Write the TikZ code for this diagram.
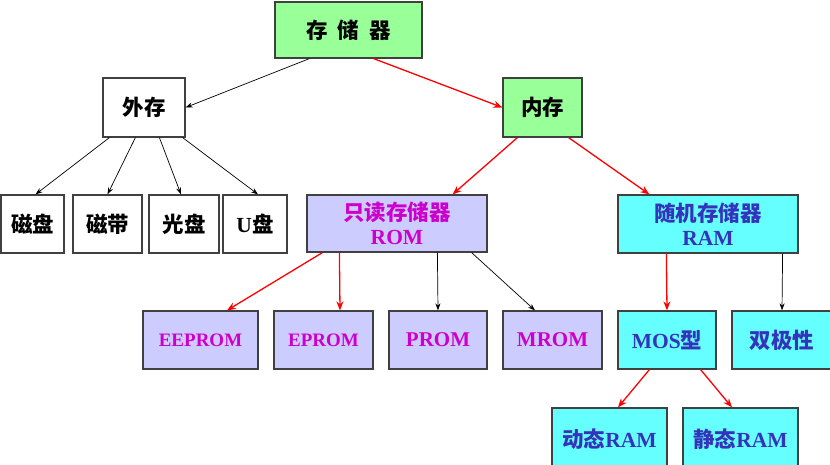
\documentclass[tikz,border=0pt]{standalone}
\usepackage{fontspec}
\setmainfont{Liberation Serif}
\newfontfamily\cjk{Noto Sans CJK SC Bold}
\usetikzlibrary{arrows.meta}
\definecolor{boxgreen}{HTML}{99FF99}
\definecolor{boxlav}{HTML}{CCCCFF}
\definecolor{boxcyan}{HTML}{66FFFF}
\definecolor{txtmag}{HTML}{CC00CC}
\definecolor{txtblue}{HTML}{3333BB}
\definecolor{edge}{HTML}{404040}
\begin{document}
\begin{tikzpicture}[x=1pt,y=-1pt,
  box/.style={draw=edge,line width=1.2pt,inner sep=0pt,align=center,
    font=\fontsize{21.5}{27}\selectfont\bfseries},
  gbox/.style={box,fill=boxgreen},
  wbox/.style={box,fill=white},
  lbox/.style={box,fill=boxlav,text=txtmag},
  cbox/.style={box,fill=boxcyan,text=txtblue},
  blk/.style={draw=black,line width=0.7pt,-{Stealth[length=7pt,width=5pt]}},
  red/.style={draw=red,line width=1.3pt,-{Stealth[length=9pt,width=7pt]}}]
\useasboundingbox (0,0) rectangle (830,465);
\begin{scope}
\clip (0,0) rectangle (830,465);
\node[gbox,minimum width=147pt,minimum height=56pt] (top) at (348.5,30) {\cjk 存\hspace{10pt}储\hspace{10pt}器};
\node[wbox,minimum width=82pt,minimum height=59pt] (wai) at (144,107.5) {\cjk 外存};
\node[gbox,minimum width=79pt,minimum height=59pt] (nei) at (542.5,107.5) {\cjk 内存};
\node[wbox,minimum width=63pt,minimum height=58pt] (cp1) at (32.5,224) {\cjk 磁盘};
\node[wbox,minimum width=69pt,minimum height=58pt] (cd) at (107.5,224) {\cjk 磁带};
\node[wbox,minimum width=70pt,minimum height=58pt] (gp) at (184,224) {\cjk 光盘};
\node[wbox,minimum width=64pt,minimum height=58pt] (up) at (255,224) {U{\cjk 盘}};
\node[lbox,minimum width=180pt,minimum height=57pt] (rom) at (397,223.5) {{\cjk 只读存储器}\\[-3pt]ROM};
\node[cbox,minimum width=180pt,minimum height=58pt] (ram) at (708,224) {{\cjk 随机存储器}\\[-3pt]RAM};
\node[lbox,minimum width=115pt,minimum height=58pt,font=\fontsize{19}{24}\selectfont\bfseries] (eeprom) at (200.5,340) {EEPROM};
\node[lbox,minimum width=99pt,minimum height=58pt,font=\fontsize{19}{24}\selectfont\bfseries] (eprom) at (323.5,340) {EPROM};
\node[lbox,minimum width=98pt,minimum height=58pt,font=\fontsize{21}{24}\selectfont\bfseries] (prom) at (438,340) {PROM};
\node[lbox,minimum width=99pt,minimum height=58pt,font=\fontsize{21}{24}\selectfont\bfseries] (mrom) at (552.5,340) {MROM};
\node[cbox,minimum width=98pt,minimum height=58pt] (mos) at (667,340) {MOS{\cjk 型}};
\node[cbox,minimum width=100pt,minimum height=58pt] (sj) at (782,340) {\cjk 双极性};
\node[cbox,minimum width=115pt,minimum height=62pt] (dt) at (609.5,439) {{\cjk 动态}RAM};
\node[cbox,minimum width=115pt,minimum height=62pt] (jt) at (740.5,439) {{\cjk 静态}RAM};
% connectors
\draw[blk] ([xshift=35pt]top.south west) -- (wai.east);
\draw[red] ([xshift=-49pt]top.south east) -- (nei.west);
\draw[blk] ([xshift=7pt]wai.south west) -- ([xshift=3pt]cp1.north);
\draw[blk] ([xshift=33pt]wai.south west) -- (cd.north);
\draw[blk] ([xshift=57pt]wai.south west) -- ([xshift=-3pt]gp.north);
\draw[blk] ([xshift=-3pt]wai.south east) -- ([xshift=3pt]up.north);
\draw[red] ([xshift=15pt]nei.south west) -- ([xshift=-35pt]rom.north east);
\draw[red] ([xshift=-14pt]nei.south east) -- ([xshift=32pt]ram.north west);
\draw[red] ([xshift=16pt]rom.south west) -- ([xshift=26.5pt]eeprom.north);
\draw[red] ([xshift=33pt]rom.south west) -- ([xshift=16.5pt]eprom.north);
\draw[blk] ([xshift=131pt]rom.south west) -- (prom.north);
\draw[blk] ([xshift=-16pt]rom.south east) -- ([xshift=-17.5pt]mrom.north);
\draw[red] ([xshift=49pt]ram.south west) -- (mos.north);
\draw[blk] ([xshift=-16pt]ram.south east) -- (sj.north);
\draw[red] ([xshift=32pt]mos.south west) -- ([xshift=8.5pt]dt.north);
\draw[red] ([xshift=-16pt]mos.south east) -- ([xshift=-8.5pt]jt.north);
\end{scope}
\end{tikzpicture}
\end{document}
